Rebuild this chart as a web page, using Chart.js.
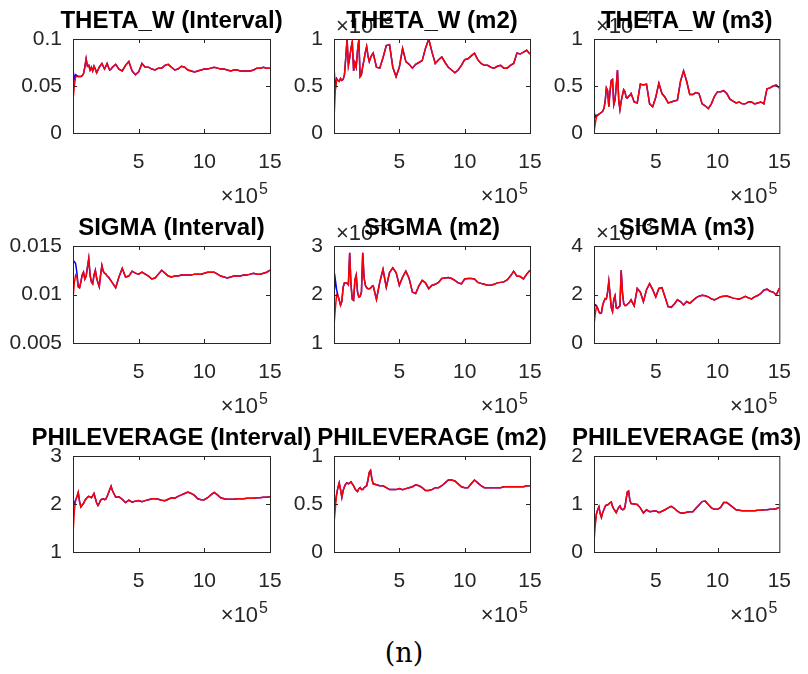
<!DOCTYPE html>
<html lang="en">
<head>
    <meta charset="UTF-8">
    <title>Parameter paths (n)</title>
    <style>
        html, body{
            margin: 0;
            padding: 0;
            background-color: #fff;
        }
        #page{
            position: relative;
            width: 808px;
            height: 674px;
            overflow: hidden;
        }
        #page canvas{
            position: absolute;
            left: 0;
            top: 0;
        }
        #caption{
            position: absolute;
            left: 0;
            top: 637px;
            width: 808px;
            text-align: center;
            font-family: "DejaVu Serif", serif;
            font-size: 27px;
            line-height: 32px;
            color: #000;
        }
    </style>
</head>
<body>
    <div id="page">
        <div id="caption">(n)</div>
    </div>

    <script src="https://cdn.jsdelivr.net/npm/chart.js"></script>
    <script>
        // sample positions (iterations)
        const xs = [0, 10000, 20000, 30000, 40000, 50000, 60000, 70000, 80000, 90000,
            100000, 110000, 120000, 130000, 140000, 150000, 160000, 170000, 180000, 190000,
            200000, 210000, 220000, 230000, 240000, 250000, 260000, 270000, 280000, 290000, 300000,
            325000, 350000, 375000, 400000, 425000, 450000, 475000, 500000, 525000, 550000,
            575000, 600000, 625000, 650000, 675000, 700000, 725000, 750000, 775000, 800000,
            825000, 850000, 875000, 900000, 925000, 950000, 975000, 1000000, 1025000, 1050000,
            1075000, 1100000, 1125000, 1150000, 1175000, 1200000, 1225000, 1250000, 1275000, 1300000,
            1325000, 1350000, 1375000, 1400000, 1425000, 1450000, 1475000, 1500000];
        const xTicks = [0, 500000, 1000000, 1500000];

        // red = second run, blue = first run (blue only differs at the start)
        const thetaIntRed = [0.035, 0.050, 0.060, 0.060, 0.060, 0.060, 0.060, 0.061, 0.063, 0.070,
            0.079, 0.071, 0.072, 0.067, 0.070, 0.066, 0.071, 0.068, 0.064, 0.067,
            0.070, 0.072, 0.074, 0.071, 0.068, 0.071, 0.074, 0.070, 0.067, 0.068, 0.070,
            0.073, 0.068, 0.066, 0.072, 0.076, 0.066, 0.062, 0.065, 0.074, 0.070,
            0.070, 0.068, 0.067, 0.069, 0.069, 0.072, 0.073, 0.070, 0.067, 0.068,
            0.071, 0.070, 0.067, 0.066, 0.065, 0.066, 0.067, 0.068, 0.068, 0.069,
            0.070, 0.069, 0.068, 0.068, 0.067, 0.066, 0.067, 0.067, 0.066, 0.066,
            0.066, 0.066, 0.067, 0.069, 0.069, 0.070, 0.069, 0.069];
        const thetaIntBlueHead = [0.067, 0.057, 0.062, 0.061];
        const thetaIntTicks = [0, 0.05, 0.1];

        const thetaM2Red = [0.15, 0.45, 0.57, 0.56, 0.55, 0.58, 0.56, 0.57, 0.62, 0.80,
            1.00, 0.72, 0.80, 0.90, 0.97, 0.66, 0.75, 0.70, 0.88, 0.99,
            0.60, 0.62, 0.71, 0.78, 0.86, 0.92, 0.82, 0.76, 0.80, 0.83, 0.85,
            0.70, 0.69, 0.80, 0.93, 0.94, 0.70, 0.60, 0.70, 0.90, 0.76,
            0.73, 0.69, 0.73, 0.75, 0.77, 0.90, 1.00, 0.86, 0.74, 0.78,
            0.81, 0.75, 0.70, 0.67, 0.64, 0.67, 0.72, 0.78, 0.79, 0.82,
            0.85, 0.78, 0.74, 0.72, 0.72, 0.70, 0.69, 0.71, 0.72, 0.69,
            0.69, 0.72, 0.74, 0.85, 0.84, 0.86, 0.88, 0.84];
        const thetaM2BlueHead = [0.71, 0.47, 0.58];
        const thetaM2Ticks = [0, 0.5, 1];

        const thetaM3Red = [0.01, 0.10, 0.17, 0.19, 0.20, 0.21, 0.22, 0.23, 0.26, 0.33,
            0.48, 0.45, 0.28, 0.45, 0.56, 0.57, 0.30, 0.35, 0.50, 0.67,
            0.35, 0.25, 0.34, 0.40, 0.46, 0.44, 0.38, 0.37, 0.39, 0.40, 0.42,
            0.33, 0.32, 0.52, 0.51, 0.52, 0.31, 0.28, 0.38, 0.53, 0.42,
            0.38, 0.32, 0.33, 0.34, 0.35, 0.55, 0.66, 0.55, 0.41, 0.41,
            0.43, 0.42, 0.31, 0.29, 0.26, 0.31, 0.39, 0.44, 0.44, 0.45,
            0.42, 0.36, 0.34, 0.32, 0.33, 0.31, 0.31, 0.33, 0.33, 0.31,
            0.32, 0.33, 0.31, 0.47, 0.48, 0.50, 0.51, 0.48];
        const thetaM3BlueHead = [0.23, 0.17, 0.19];
        const thetaM3Ticks = [0, 0.5, 1];

        const sigmaIntRed = [0.0096, 0.0112, 0.0120, 0.0118, 0.0108, 0.0107, 0.0113, 0.0120, 0.0123, 0.0116,
            0.0119, 0.0128, 0.0137, 0.0120, 0.0113, 0.0111, 0.0120, 0.0125, 0.0117, 0.0112,
            0.0108, 0.0120, 0.0130, 0.0124, 0.0122, 0.0121, 0.0119, 0.0118, 0.0116, 0.0114, 0.0112,
            0.0107, 0.0118, 0.0127, 0.0118, 0.0119, 0.0124, 0.0122, 0.0121, 0.0123, 0.0121,
            0.0119, 0.0116, 0.0117, 0.0121, 0.0125, 0.0122, 0.0119, 0.0118, 0.0119, 0.0119,
            0.0120, 0.0120, 0.0120, 0.0120, 0.0121, 0.0121, 0.0121, 0.0122, 0.0123, 0.0123,
            0.0123, 0.0121, 0.0119, 0.0118, 0.0117, 0.0118, 0.0119, 0.0119, 0.0119, 0.0120,
            0.0120, 0.0121, 0.0122, 0.0121, 0.0121, 0.0122, 0.0123, 0.0125];
        const sigmaIntBlueHead = [0.0134, 0.0134, 0.0132, 0.0122];
        const sigmaIntTicks = [0.005, 0.01, 0.015];

        const sigmaM2Red = [1.36, 1.70, 2.00, 1.98, 1.88, 1.78, 1.86, 2.15, 2.24, 2.24,
            2.23, 2.20, 2.86, 2.20, 1.90, 1.88, 2.30, 2.40, 2.05, 1.95,
            1.96, 2.05, 2.86, 2.35, 2.19, 2.14, 2.12, 2.12, 2.13, 2.17, 2.18,
            1.90, 2.25, 2.52, 2.15, 2.45, 2.55, 2.45, 2.19, 2.36, 2.48,
            2.33, 2.05, 2.02, 2.18, 2.29, 2.24, 2.12, 2.19, 2.21, 2.25,
            2.33, 2.34, 2.35, 2.33, 2.29, 2.24, 2.22, 2.32, 2.33, 2.33,
            2.32, 2.25, 2.23, 2.21, 2.19, 2.19, 2.21, 2.24, 2.25, 2.26,
            2.30, 2.38, 2.48, 2.38, 2.37, 2.32, 2.42, 2.50];
        const sigmaM2BlueHead = [2.02, 2.31, 2.10];
        const sigmaM2Ticks = [1, 2, 3];

        const sigmaM3Red = [0.74, 1.20, 1.50, 1.43, 1.28, 1.22, 1.24, 1.55, 1.71, 1.83,
            1.82, 2.10, 2.54, 2.00, 1.45, 1.30, 1.80, 1.95, 1.45, 1.43,
            1.48, 1.53, 3.00, 2.10, 1.64, 1.55, 1.55, 1.60, 1.64, 1.70, 1.78,
            1.53, 2.25, 2.10, 1.70, 2.20, 2.45, 2.20, 1.90, 2.25, 2.28,
            1.90, 1.50, 1.47, 1.61, 1.78, 1.71, 1.57, 1.71, 1.64, 1.75,
            1.86, 1.93, 1.97, 1.95, 1.90, 1.82, 1.78, 1.84, 1.91, 1.93,
            1.94, 1.90, 1.85, 1.83, 1.81, 1.86, 1.92, 1.86, 1.82, 1.90,
            1.96, 2.04, 2.18, 2.22, 2.13, 2.10, 1.98, 2.26];
        const sigmaM3BlueHead = [1.43, 1.58, 1.55];
        const sigmaM3Ticks = [0, 2, 4];

        const phiIntRed = [1.38, 1.85, 2.08, 2.15, 2.24, 2.05, 1.94, 1.98, 2.01, 2.07,
            2.11, 2.14, 2.16, 2.15, 2.13, 2.17, 2.22, 2.12, 2.02, 1.97,
            2.02, 2.08, 2.10, 2.11, 2.09, 2.10, 2.16, 2.23, 2.30, 2.37, 2.28,
            2.14, 2.15, 2.10, 2.03, 2.08, 2.04, 2.06, 2.07, 2.05, 2.07,
            2.09, 2.11, 2.11, 2.10, 2.08, 2.07, 2.10, 2.13, 2.12, 2.16,
            2.19, 2.22, 2.25, 2.22, 2.18, 2.11, 2.09, 2.09, 2.13, 2.19,
            2.24, 2.19, 2.13, 2.11, 2.10, 2.10, 2.10, 2.11, 2.11, 2.11,
            2.12, 2.12, 2.12, 2.13, 2.13, 2.14, 2.14, 2.15];
        const phiIntBlueHead = [1.94, 2.02];
        const phiIntTicks = [1, 2, 3];

        const phiM2Red = [0.30, 0.45, 0.60, 0.67, 0.72, 0.65, 0.57, 0.64, 0.68, 0.71,
            0.72, 0.71, 0.72, 0.73, 0.71, 0.69, 0.66, 0.64, 0.63, 0.66,
            0.67, 0.65, 0.65, 0.67, 0.68, 0.69, 0.75, 0.83, 0.85, 0.76, 0.71,
            0.70, 0.69, 0.69, 0.67, 0.65, 0.65, 0.65, 0.66, 0.65, 0.66,
            0.67, 0.68, 0.70, 0.69, 0.67, 0.64, 0.64, 0.65, 0.67, 0.67,
            0.69, 0.72, 0.75, 0.75, 0.74, 0.71, 0.68, 0.67, 0.67, 0.71,
            0.75, 0.72, 0.69, 0.67, 0.67, 0.67, 0.67, 0.67, 0.67, 0.68,
            0.68, 0.68, 0.68, 0.68, 0.68, 0.68, 0.69, 0.69];
        const phiM2BlueHead = [0.56, 0.52];
        const phiM2Ticks = [0, 0.5, 1];

        const phiM3Red = [0.21, 0.55, 0.80, 0.88, 0.94, 0.80, 0.72, 0.82, 0.88, 0.95,
            0.98, 0.98, 1.00, 1.03, 1.04, 0.95, 0.90, 0.86, 0.82, 0.88,
            0.93, 0.96, 0.90, 0.88, 0.89, 0.93, 1.10, 1.25, 1.27, 1.08, 1.01,
            1.00, 0.99, 0.92, 0.81, 0.88, 0.84, 0.85, 0.86, 0.82, 0.85,
            0.88, 0.92, 0.95, 0.91, 0.85, 0.81, 0.81, 0.83, 0.84, 0.84,
            0.91, 0.98, 1.05, 1.06, 0.99, 0.92, 0.89, 0.89, 0.93, 1.03,
            1.03, 0.98, 0.93, 0.88, 0.87, 0.86, 0.86, 0.86, 0.86, 0.86,
            0.87, 0.87, 0.88, 0.88, 0.89, 0.89, 0.90, 0.93];
        const phiM3BlueHead = [0.56, 0.62];
        const phiM3Ticks = [0, 1, 2];

        const panels = [
            {title: 'THETA_W (Interval)', red: thetaIntRed, blueHead: thetaIntBlueHead, yTicks: thetaIntTicks, yExp: null},
            {title: 'THETA_W (m2)', red: thetaM2Red, blueHead: thetaM2BlueHead, yTicks: thetaM2Ticks, yExp: '\u22123'},
            {title: 'THETA_W (m3)', red: thetaM3Red, blueHead: thetaM3BlueHead, yTicks: thetaM3Ticks, yExp: '\u22124'},
            {title: 'SIGMA (Interval)', red: sigmaIntRed, blueHead: sigmaIntBlueHead, yTicks: sigmaIntTicks, yExp: null},
            {title: 'SIGMA (m2)', red: sigmaM2Red, blueHead: sigmaM2BlueHead, yTicks: sigmaM2Ticks, yExp: '\u22123'},
            {title: 'SIGMA (m3)', red: sigmaM3Red, blueHead: sigmaM3BlueHead, yTicks: sigmaM3Ticks, yExp: '\u22123'},
            {title: 'PHILEVERAGE (Interval)', red: phiIntRed, blueHead: phiIntBlueHead, yTicks: phiIntTicks, yExp: null},
            {title: 'PHILEVERAGE (m2)', red: phiM2Red, blueHead: phiM2BlueHead, yTicks: phiM2Ticks, yExp: null},
            {title: 'PHILEVERAGE (m3)', red: phiM3Red, blueHead: phiM3BlueHead, yTicks: phiM3Ticks, yExp: null}
        ];

        // plot boxes in page pixels
        const spalten = [[73, 270], [334, 530], [594, 792]];
        const zeilen = [[39, 133], [246, 343], [456, 552]];
        const Y_ACHSE = 70;
        const X_ACHSE = 60;
        const achsenFarbe = '#262626';
        const schrift = '"Liberation Sans", Arial, sans-serif';

        Chart.defaults.font.family = schrift;

        // box, inner ticks, exponents and title like a matlab axes
        function rahmen(p){
            return {
                id: 'rahmen',
                afterDraw(chart){
                    const ctx = chart.ctx;
                    const a = chart.chartArea;
                    const sx = chart.scales.x;
                    const sy = chart.scales.y;
                    ctx.save();
                    ctx.strokeStyle = achsenFarbe;
                    ctx.lineWidth = 1;
                    ctx.strokeRect(a.left + 0.5, a.top + 0.5, a.right - a.left, a.bottom - a.top);

                    ctx.beginPath();
                    xTicks.slice(1, -1).forEach(v => {
                        const x = Math.round(sx.getPixelForValue(v)) + 0.5;
                        ctx.moveTo(x, a.bottom); ctx.lineTo(x, a.bottom - 4);
                        ctx.moveTo(x, a.top); ctx.lineTo(x, a.top + 4);
                    });
                    p.yTicks.slice(1, -1).forEach(v => {
                        const y = Math.round(sy.getPixelForValue(v)) + 0.5;
                        ctx.moveTo(a.left, y); ctx.lineTo(a.left + 4, y);
                        ctx.moveTo(a.right, y); ctx.lineTo(a.right - 4, y);
                    });
                    ctx.stroke();

                    ctx.fillStyle = achsenFarbe;
                    ctx.textBaseline = 'alphabetic';

                    // x exponent
                    ctx.font = '16px ' + schrift;
                    ctx.textAlign = 'right';
                    const hochB = ctx.measureText('5').width;
                    ctx.fillText('5', a.right - 2, a.bottom + 61);
                    ctx.font = '22px ' + schrift;
                    ctx.fillText('\u00d710', a.right - 3 - hochB, a.bottom + 70);

                    // y exponent
                    if (p.yExp){
                        ctx.textAlign = 'left';
                        ctx.font = '22px ' + schrift;
                        const basis = ctx.measureText('\u00d710').width;
                        ctx.fillText('\u00d710', a.left + 2, a.top - 6);
                        ctx.font = '16px ' + schrift;
                        ctx.fillText(p.yExp, a.left + 3 + basis, a.top - 15);
                    }

                    ctx.fillStyle = '#000';
                    ctx.font = 'bold 24px ' + schrift;
                    ctx.textAlign = 'center';
                    ctx.fillText(p.title, (a.left + a.right) / 2, a.top - 11);
                    ctx.restore();
                }
            };
        }

        function diagrammErstellen(p, i){
            const [x0, x1] = spalten[i % 3];
            const [y0, y1] = zeilen[Math.floor(i / 3)];
            const canvas = document.createElement('canvas');
            canvas.width = 808;
            canvas.height = 674;
            document.getElementById('page').appendChild(canvas);

            const blau = p.blueHead.concat(p.red.slice(p.blueHead.length));
            const punkte = werte => xs.map((x, k) => ({x: x, y: werte[k]}));

            new Chart(canvas, {
                type: 'line',
                data: {
                    datasets: [
                        {data: punkte(p.red), borderColor: '#ff0000', borderWidth: 1.5, pointRadius: 0, tension: 0},
                        {data: punkte(blau), borderColor: '#0000ff', borderWidth: 1.5, pointRadius: 0, tension: 0}
                    ]
                },
                options: {
                    responsive: false,
                    animation: false,
                    devicePixelRatio: 1,
                    events: [],
                    layout: {
                        padding: {left: x0 - Y_ACHSE, top: y0, right: 808 - x1, bottom: 674 - y1 - X_ACHSE}
                    },
                    plugins: {
                        legend: {display: false},
                        tooltip: {enabled: false},
                        title: {display: false}
                    },
                    scales: {
                        x: {
                            type: 'linear',
                            min: xTicks[0],
                            max: xTicks[xTicks.length - 1],
                            grid: {display: false, drawTicks: false},
                            border: {display: false},
                            afterBuildTicks: s => { s.ticks = xTicks.map(v => ({value: v})); },
                            afterFit: s => { s.height = X_ACHSE; },
                            ticks: {
                                autoSkip: false,
                                maxRotation: 0,
                                padding: 17,
                                color: achsenFarbe,
                                font: {size: 21},
                                callback: v => v === 0 ? null : String(v / 100000)
                            }
                        },
                        y: {
                            min: p.yTicks[0],
                            max: p.yTicks[p.yTicks.length - 1],
                            grid: {display: false, drawTicks: false},
                            border: {display: false},
                            afterBuildTicks: s => { s.ticks = p.yTicks.map(v => ({value: v})); },
                            afterFit: s => { s.width = Y_ACHSE; },
                            ticks: {
                                autoSkip: false,
                                padding: 11,
                                color: achsenFarbe,
                                font: {size: 21},
                                callback: v => String(v)
                            }
                        }
                    }
                },
                plugins: [rahmen(p)]
            });
        }

        panels.forEach(diagrammErstellen);
    </script>
</body>
</html>
